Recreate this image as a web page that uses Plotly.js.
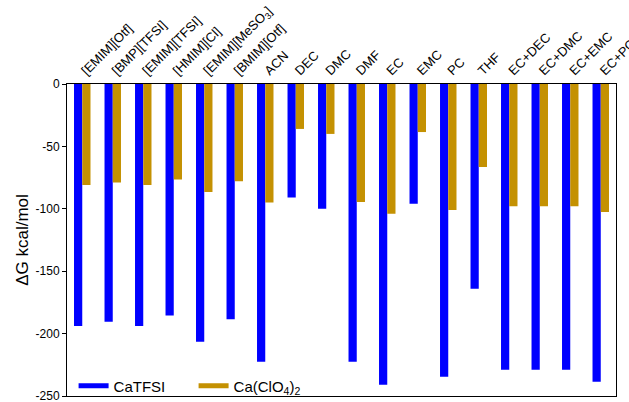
<!DOCTYPE html>
<html>
<head>
<meta charset="utf-8">
<script src="https://cdn.plot.ly/plotly-3.0.1.min.js"></script>
<style>html,body{margin:0;padding:0;background:#fff;}#chart{width:629px;height:402px;}</style>
</head>
<body>
<div id="chart"></div>
<script>
const categories = ["[EMIM][Otf]", "[BMP][TFSI]", "[EMIM][TFSI]", "[HMIM][Cl]", "[EMIM][MeSO<sub>3</sub>]", "[BMIM][Otf]", "ACN", "DEC", "DMC", "DMF", "EC", "EMC", "PC", "THF", "EC+DEC", "EC+DMC", "EC+EMC", "EC+PC"];
const caTFSI = [-194, -190.5, -194, -185.5, -206.5, -188.5, -222.5, -91, -100, -222.5, -241, -96, -234.5, -164, -229, -229, -229, -238.5];
const caClO4 = [-81, -79, -81, -76.5, -86.5, -78, -95, -36, -40, -94.5, -104, -38.5, -101, -66.5, -98, -98, -98, -102.5];
const yTicks = [0, -50, -100, -150, -200, -250];
const yTickText = ["0", "-50", "-100", "-150", "-200", "-250"];

const blue = "#0000FF", gold = "#C49102";
const font = "Liberation Sans, Arial, sans-serif";

const traces = [
  {type: "bar", name: "CaTFSI", x: categories, y: caTFSI, marker: {color: blue}, showlegend: false},
  {type: "bar", name: "Ca(ClO<sub>4</sub>)<sub>2</sub>", x: categories, y: caClO4, marker: {color: gold}, showlegend: false},
  {type: "scatter", mode: "lines", name: "CaTFSI", x: [null], y: [null], line: {color: blue, width: 5}},
  {type: "scatter", mode: "lines", name: "Ca(ClO<sub>4</sub>)<sub>2</sub>", x: [null], y: [null], line: {color: gold, width: 5}}
];

const layout = {
  width: 629, height: 402,
  margin: {l: 67, r: 13, t: 84, b: 6, autoexpand: false},
  paper_bgcolor: "#fff", plot_bgcolor: "#fff",
  font: {family: font, size: 12, color: "#000"},
  barmode: "group", bargap: 0.46, bargroupgap: 0,
  xaxis: {
    side: "top", type: "category", tickangle: -45,
    showline: true, linecolor: "#000", linewidth: 1, mirror: true,
    ticks: "", showgrid: false, zeroline: false, ticklabeloverflow: "allow",
    tickfont: {family: font, size: 13, color: "#000"}
  },
  yaxis: {
    range: [-250, 0], tickvals: yTicks, ticktext: yTickText,
    ticks: "outside", ticklen: 4, tickcolor: "#000",
    showline: true, linecolor: "#000", linewidth: 1, mirror: true,
    showgrid: false, zeroline: false, ticklabeloverflow: "allow",
    tickfont: {family: font, size: 12, color: "#000"},
    title: {text: "ΔG kcal/mol", font: {family: font, size: 17, color: "#000"}, standoff: 2}
  },
  showlegend: true,
  legend: {
    orientation: "h", x: 0.012, xanchor: "left", y: -0.021, yanchor: "bottom",
    bgcolor: "rgba(0,0,0,0)", font: {family: font, size: 15, color: "#000"},
    entrywidth: 75, entrywidthmode: "pixels", itemwidth: 30
  }
};

Plotly.newPlot("chart", traces, layout, {displayModeBar: false, staticPlot: true});
</script>
</body>
</html>
